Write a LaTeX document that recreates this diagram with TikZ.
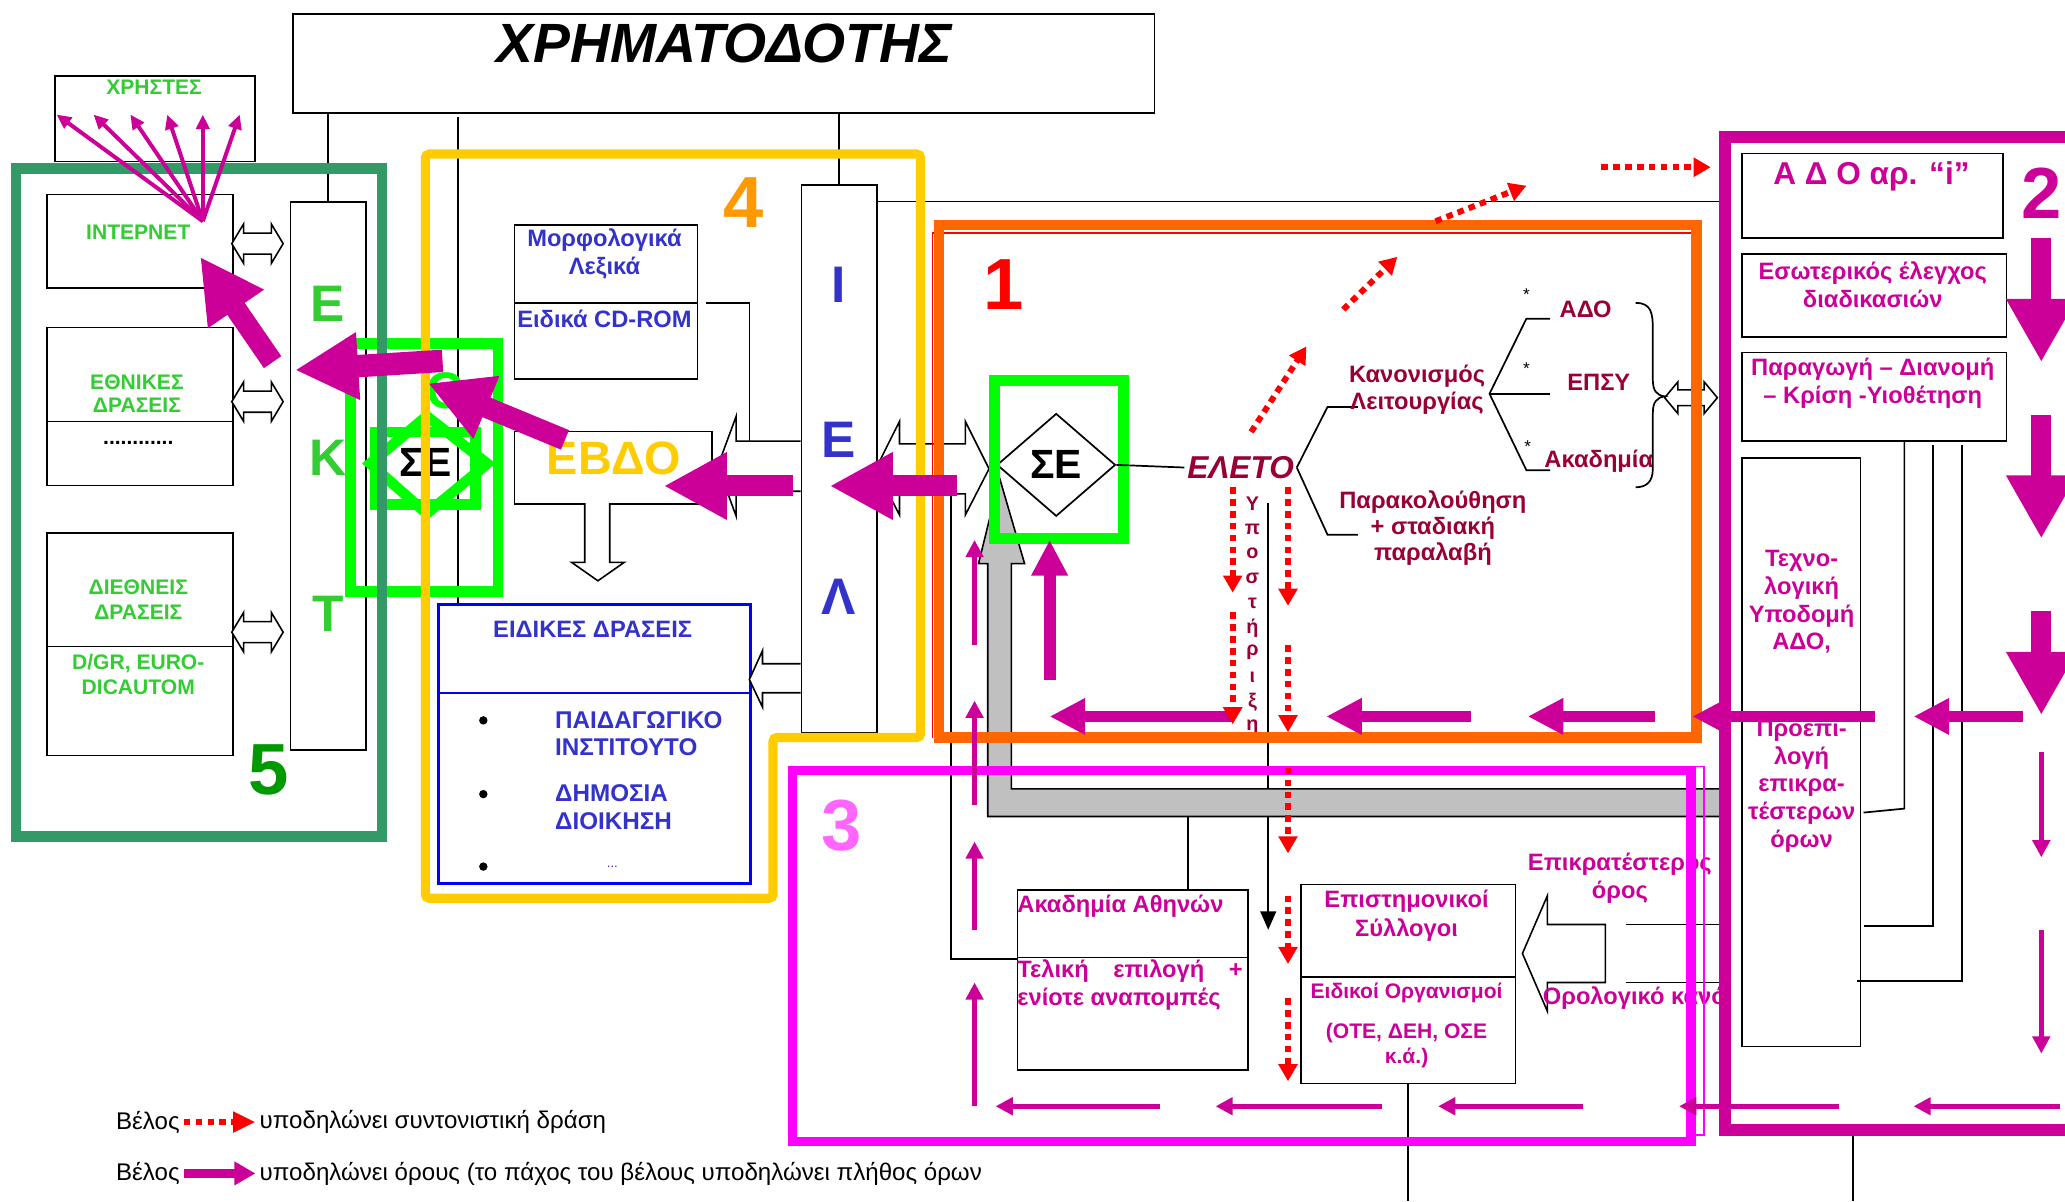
\documentclass[tikz,border=0pt]{standalone}
\usepackage{fontspec}
\setmainfont{Liberation Sans}
\usepackage{xcolor}
\usetikzlibrary{positioning,arrows.meta,shapes.geometric}
\definecolor{dmag}{HTML}{CC0099}
\definecolor{pmag}{HTML}{FF00FF}
\definecolor{lmag}{HTML}{FF66FF}
\definecolor{dorange}{HTML}{FF6600}
\definecolor{lorange}{HTML}{FF9900}
\definecolor{dyellow}{HTML}{FFCC00}
\definecolor{segreen}{HTML}{00FF00}
\definecolor{sgreen}{HTML}{339966}
\definecolor{fgreen}{HTML}{009900}
\definecolor{tgreen}{HTML}{33CC33}
\definecolor{tblue}{HTML}{3333CC}
\definecolor{bblue}{HTML}{0000FF}
\definecolor{dred}{HTML}{990033}
\definecolor{lgray}{HTML}{C0C0C0}

\begin{document}
\begin{tikzpicture}[x=1pt, y=-1pt,
  box/.style={draw=black, line width=1.3pt, inner sep=0pt, anchor=north west},
  wire/.style={draw=black, line width=1.3pt},
  hollow/.style={draw=black, fill=white, line width=1.2pt, line join=miter},
  bigarr/.style={draw=dmag, line width=16pt, -{Triangle[length=48pt,width=48pt]}},
  midarr/.style={draw=dmag, line width=9pt, -{Triangle[length=27pt,width=26pt]}},
  thinarr/.style={draw=dmag, line width=4pt, -{Triangle[length=13pt,width=13pt]}},
  fanarr/.style={draw=dmag, line width=3pt, -{Triangle[length=11pt,width=10pt]}},
  coordarr/.style={draw=red, line width=4.5pt, dash pattern=on 5pt off 4pt, -{Triangle[length=13pt,width=14pt]}},
  gtxt/.style={text=tgreen, font=\bfseries\fontsize{16}{18}\selectfont, align=center},
  btxt/.style={text=tblue, font=\bfseries\fontsize{18}{21}\selectfont, align=center},
  mtxt/.style={text=dmag, font=\bfseries\fontsize{18}{21}\selectfont, align=center},
  rtxt/.style={text=dred, font=\bfseries\fontsize{18}{20}\selectfont, align=center, inner sep=2pt},
  bignum/.style={font=\bfseries\fontsize{55}{55}\selectfont},
  colletter/.style={font=\bfseries\fontsize{39}{39}\selectfont},
  legtxt/.style={font=\fontsize{18.3}{20}\selectfont, inner sep=3pt, anchor=west},
  ]
  \clip (0,0) rectangle (1568,912);
  \fill[white] (0,0) rectangle (1568,912);

  % black boxes
  \node[box, minimum width=654pt, minimum height=75pt] (fund) at (222,10) {};
  \node[box, minimum width=152pt, minimum height=65pt] (users) at (41,57) {};
  \node[box, minimum width=141pt, minimum height=71pt] (inet) at (35,147) {};
  \node[box, minimum width=141pt, minimum height=120pt] (ethn) at (35,248) {};
  \node[box, minimum width=141pt, minimum height=169pt] (dieth) at (35,404) {};
  \node[box, minimum width=57pt, minimum height=416pt] (ekt) at (220,153) {};
  \node[box, minimum width=139pt, minimum height=117pt] (morf) at (390,170) {};
  \node[box, minimum width=150pt, minimum height=55pt] (ebdo) at (390,327) {};
  \node[box, draw=bblue, line width=1.8pt, minimum width=237pt, minimum height=212pt] (eidik) at (332,458) {};
  \node[box, minimum width=57pt, minimum height=416pt] (iel) at (608,140) {};
  \node[box, minimum width=175pt, minimum height=137pt] (akad) at (772,675) {};
  \node[box, minimum width=163pt, minimum height=151pt] (epist) at (987,671) {};
  \node[box, minimum width=198pt, minimum height=64pt] (ado) at (1322,116) {};
  \node[box, minimum width=201pt, minimum height=63pt] (esot) at (1322,192) {};
  \node[box, minimum width=201pt, minimum height=67pt] (parag) at (1322,267) {};
  \node[box, minimum width=90pt, minimum height=447pt] (techn) at (1322,347) {};

  % dividers
  \draw[wire] (35,320) -- (176,320);
  \draw[wire] (35,491) -- (176,491);
  \draw[wire] (390,230) -- (529,230);
  \draw[wire, draw=bblue, line width=1.8pt] (332,526) -- (569,526);
  \draw[wire] (772,727) -- (947,727);
  \draw[wire] (987,742) -- (1150,742);

  % thin connectors
  \draw[wire] (fund.south -| ekt.north) -- (ekt.north);
  \draw[wire] (fund.south -| iel.north) -- (iel.north);
  \coordinate (c348) at (348,89);
  \draw[wire] (c348) -- (c348 |- eidik.north);
  \coordinate (c153) at (1308,153);
  \draw[wire] (c153 -| iel.east) -- (c153);
  \coordinate (mcd) at (536,230);
  \draw[wire] (mcd) -- (569,230) -- (569,335);
  \coordinate (c722) at (722,375);
  \draw[wire] (c722) -- (722,728) -- (akad.west |- 0,728);
  \coordinate (c902) at (902,620);
  \draw[wire] (c902) -- (c902 |- akad.north);
  \draw[wire, -{Triangle[length=14pt,width=12pt]}] (963,382) -- (963,706);
  \draw[wire] (epist.south) -- (epist.south |- 0,912);
  \draw[wire] (1407,862) -- (1407,912);
  \coordinate (r1) at (1446,614);
  \draw[wire] (r1 |- parag.south) -- (r1) -- (1415,617);
  \draw[wire] (1468,338) -- (1468,703) -- (1415,703);
  \draw[wire] (1490,338) -- (1490,745) -- (1410,745);
  \draw[wire] (1235,702) -- (1308,702);
  \draw[wire] (1235,746) -- (1308,746);

  % gray return arrow
  \draw[fill=lgray, line width=1.2pt, line join=miter] (1308,599) -- (768,599) -- (768,428) -- (778,428)
    -- (759,363) -- (743,428) -- (750,428) -- (750,620) -- (1308,620);

  % hollow arrows
  \foreach \yy in {185,305,480}
    \draw[hollow] (176,\yy) -- ++(9,-15) -- ++(0,7) -- ++(21,0) -- ++(0,-7) -- ++(9,15)
      -- ++(-9,15) -- ++(0,-7) -- ++(-21,0) -- ++(0,7) -- cycle;
  \draw[hollow] (608,335) -- (559,335) -- (559,316) -- (545,354) -- (559,392) -- (559,373) -- (608,373);
  \draw[hollow] (608,504) -- (579,504) -- (579,494) -- (569,516) -- (579,537) -- (579,526) -- (608,526);
  \draw[hollow] (444,382) -- (444,427) -- (434,427) -- (454,441) -- (474,427) -- (463,427) -- (463,382);
  \draw[hollow] (665,356) -- (683,320) -- (683,337) -- (733,337) -- (733,320) -- (751,356)
    -- (733,391) -- (733,375) -- (683,375) -- (683,391) -- cycle;
  \draw[hollow] (1219,702) -- (1175,702) -- (1175,680) -- (1156,724) -- (1175,768) -- (1175,746) -- (1219,746) -- cycle;
  \draw[hollow] (1264,302) -- ++(10,-12) -- ++(0,6) -- ++(20,0) -- ++(0,-6) -- ++(10,12)
    -- ++(-10,12) -- ++(0,-6) -- ++(-20,0) -- ++(0,6) -- cycle;

  % brace
  \draw[wire] (1242,230) .. controls (1254,230) and (1255,238) .. (1255,250) -- (1255,288)
    .. controls (1255,297) and (1258,300) .. (1264,301)
    .. controls (1258,302) and (1255,305) .. (1255,314) -- (1255,356)
    .. controls (1255,366) and (1250,370) .. (1242,370);

  % SE nodes
  \node[draw, diamond, line width=1.3pt, minimum width=90pt, minimum height=78pt, inner sep=0pt,
    font=\bfseries\fontsize{31}{31}\selectfont] (se) at (802,353) {ΣΕ};
  \draw[segreen, line width=8pt] (755,289) rectangle (853,409);
  \draw[segreen, line width=8pt] (266,261) rectangle (378,449);
  \draw[segreen, line width=8pt] (285,328) rectangle (361,383);
  \draw[segreen, line width=8pt, line join=miter] (324,316) -- (370,352) -- (324,390) -- (281,352) -- cycle;
  \node[font=\bfseries\fontsize{31}{31}\selectfont] (sel) at (323,351) {ΣΕ};
  \node[colletter, text=segreen] (cgl) at (338,297) {C};

  % ELETO branch
  \node[rtxt, font=\bfseries\itshape\fontsize{24}{24}\selectfont] (eleto) at (942,355) {ΕΛΕΤΟ};
  \draw[wire] (se.east) -- (eleto.west);
  \draw[wire] (eleto.east) -- (1008,309) -- (1031,309);
  \draw[wire] (eleto.east) -- (1008,406) -- (1031,406);
  \node[rtxt] (kanon) at (1076,296) {Κανονισμός\\Λειτουργίας};
  \node[rtxt] (parak) at (1088,401) {Παρακολούθηση\\+ σταδιακή\\παραλαβή};
  \coordinate (kb) at (1131,299);
  \draw[wire] (1177,242) -- (1159,242) -- (kb) -- (1159,357) -- (1177,357);
  \draw[wire] (kb) -- (1177,299);
  \foreach \ax/\ay in {1159/224, 1159/280, 1160/339}
    \node[font=\fontsize{13}{13}\selectfont, inner sep=0pt] at (\ax,\ay) {*};
  \node[rtxt] (adoc) at (1204,235) {ΑΔΟ};
  \node[rtxt] (epsy) at (1214,290) {ΕΠΣΥ};
  \node[rtxt] (akd) at (1214,350) {Ακαδημία};
  \foreach \ch [count=\i] in {Υ,π,ο,σ,τ,ή,ρ,ι,ξ,η}
    \node[text=dred, font=\bfseries\fontsize{15}{15}\selectfont, inner sep=0pt] at (951,364+18.8*\i) {\ch};

  % texts
  \node[font=\bfseries\itshape\fontsize{42}{42}\selectfont] (fundtxt) at (550,33) {ΧΡΗΜΑΤΟΔΟΤΗΣ};
  \node[gtxt] (userstxt) at (117,66) {ΧΡΗΣΤΕΣ};
  \node[gtxt] (inettxt) at (105,176) {ΙΝΤΕΡΝΕΤ};
  \node[gtxt] (ethntxt) at (104,299) {ΕΘΝΙΚΕΣ\\ΔΡΑΣΕΙΣ};
  \node[font=\bfseries\fontsize{16}{18}\selectfont] (dots) at (105,336) {............};
  \node[gtxt, font=\bfseries\fontsize{16}{19}\selectfont] (diethtxt) at (105,455) {ΔΙΕΘΝΕΙΣ\\ΔΡΑΣΕΙΣ};
  \node[gtxt, font=\bfseries\fontsize{16}{19}\selectfont] (dgr) at (105,512) {D/GR, EURO-\\DICAUTOM};
  \node[colletter, text=tgreen] at (249,231) {Ε};
  \node[colletter, text=tgreen] at (249,348) {Κ};
  \node[colletter, text=tgreen] at (249,466) {Τ};
  \node[btxt] (morftxt) at (459,193) {Μορφολογικά\\Λεξικά};
  \node[btxt] (cdrom) at (459,242) {Ειδικά CD-ROM};
  \node[text=dyellow, font=\bfseries\fontsize{35.5}{35.5}\selectfont] (ebdotxt) at (466,348) {ΕΒΔΟ};
  \node[btxt, font=\bfseries\fontsize{18}{20}\selectfont] (eidiktxt) at (450,478) {ΕΙΔΙΚΕΣ ΔΡΑΣΕΙΣ};
  \foreach \yy in {547,603,658} \fill (367,\yy) circle (3.2pt);
  \node[btxt, font=\bfseries\fontsize{18.4}{21}\selectfont, align=left, anchor=west] (pi) at (418,557) {ΠΑΙΔΑΓΩΓΙΚΟ\\ΙΝΣΤΙΤΟΥΤΟ};
  \node[btxt, font=\bfseries\fontsize{18.4}{21}\selectfont, align=left, anchor=west] (dd) at (418,613) {ΔΗΜΟΣΙΑ\\ΔΙΟΙΚΗΣΗ};
  \node[text=tblue, font=\fontsize{10}{10}\selectfont] at (465,658) {...};
  \node[colletter, text=tblue] at (637,216) {Ι};
  \node[colletter, text=tblue] at (637,334) {Ε};
  \node[colletter, text=tblue] at (637,453) {Λ};
  \node[mtxt, anchor=west] (akadt) at (769,688) {Ακαδημία Αθηνών};
  \node[mtxt, anchor=west] (akadt2) at (769,737) {\makebox[171pt][s]{Τελική επιλογή +}};
  \node[mtxt, anchor=west] (akadt3) at (769,759) {ενίοτε αναπομπές};
  \node[mtxt, font=\bfseries\fontsize{18}{22}\selectfont] (episttxt) at (1068,695) {Επιστημονικοί\\Σύλλογοι};
  \node[mtxt, font=\bfseries\fontsize{16}{19}\selectfont] (eidorg) at (1068,754) {Ειδικοί Οργανισμοί};
  \node[mtxt, font=\bfseries\fontsize{16}{19}\selectfont] (ote) at (1068,794) {(ΟΤΕ, ΔΕΗ, ΟΣΕ\\κ.ά.)};
  \node[mtxt] (epikr) at (1230,667) {Επικρατέστερος\\όρος};
  \node[mtxt, anchor=west] (orol) at (1168,758) {Ορολογικό κανό};
  \node[mtxt, font=\bfseries\fontsize{24}{24}\selectfont] (adotxt) at (1421,134) {Α Δ Ο αρ. “i”};
  \node[mtxt] (esottxt) at (1422,216) {Εσωτερικός έλεγχος\\διαδικασιών};
  \node[mtxt] (paragtxt) at (1422,291) {Παραγωγή – Διανομή\\– Κρίση -Υιοθέτηση};
  \node[mtxt] (techtxt) at (1368,457) {Τεχνο-\\λογική\\Υποδομή\\ΑΔΟ,};
  \node[mtxt] (proetxt) at (1368,597) {Προεπι-\\λογή\\επικρα-\\τέστερων\\όρων};

  % region frames
  \draw[sgreen, line width=8pt] (12,128) rectangle (290,635);
  \draw[dyellow, line width=7pt, rounded corners=3pt] (323,117) -- (699,117) -- (699,560) -- (587,560)
    -- (587,682) -- (323,682) -- cycle;
  \draw[red, line width=1.3pt] (708,560) -- (708,177) -- (1284,177);
  \draw[dorange, line width=8pt] (713,171) rectangle (1288,560);
  \draw[pmag, line width=7pt] (602,585) rectangle (1284,867);
  \draw[pmag, line width=1.3pt] (1282,582) -- (1294,582) -- (1294,862) -- (1282,862);
  \draw[dmag, line width=9pt] (1590,104) -- (1310,104) -- (1310,858) -- (1590,858);
  \node[bignum, text=fgreen] at (204,585) {5};
  \node[bignum, text=lorange] at (565,154) {4};
  \node[bignum, text=red] at (762,216) {1};
  \node[bignum, text=lmag] at (639,627) {3};
  \node[bignum, text=dmag] at (1550,147) {2};

  % flows of terms
  \coordinate (fanroot) at (154,168);
  \foreach \tx in {43,71,99,127,154,182}
    \draw[fanarr] (fanroot) -- (\tx,87);
  \draw[bigarr] (207,275) -- (152,195);
  \draw[bigarr, line width=17pt] (336,274) -- (224,281);
  \draw[bigarr] (429,334) -- (325,291);
  \draw[bigarr] (602,369) -- (504,369);
  \draw[bigarr] (727,369) -- (630,369);
  \foreach \ya/\yb in {181/275, 315/409, 464/543}
    \draw[bigarr, line width=15pt, -{Triangle[length=48pt,width=50pt]}] (1550,\ya) -- (1550,\yb);
  \draw[midarr] (797,516) -- (797,410);
  \foreach \xa/\xb in {935/797, 1117/1007, 1257/1160, 1424/1285, 1536/1453}
    \draw[midarr] (\xa,544) -- (\xb,544);
  \foreach \ya/\yb in {490/410, 611/532, 706/639, 840/746}
    \draw[thinarr] (740,\ya) -- (740,\yb);
  \foreach \xa/\xb in {881/756, 1049/923, 1202/1092, 1396/1275, 1564/1453}
    \draw[thinarr] (\xa,840) -- (\xb,840);
  \foreach \ya/\yb in {571/651, 706/800}
    \draw[thinarr] (1550,\ya) -- (1550,\yb);

  % coordination arrows
  \foreach \xa/\ya/\xb/\yb in {950/328/992/263, 1020/235/1061/195, 1090/168/1159/141, 1216/127/1299/127,
      936/370/936/450, 936/465/936/550, 978/370/978/460, 978/490/978/556, 978/583/978/648,
      978/680/978/732, 978/758/978/821}
    \draw[coordarr] (\xa,\ya) -- (\xb,\yb);

  % legend
  \node[legtxt] (leg1) at (85,852) {Βέλος};
  \node[legtxt] (legt1) at (194,852) {υποδηλώνει συντονιστική δράση};
  \draw[coordarr, line width=5pt, -{Triangle[length=17pt,width=15pt]}] (leg1.east) -- (legt1.west);
  \node[legtxt] (leg2) at (85,891) {Βέλος};
  \node[legtxt] (legt2) at (194,891) {υποδηλώνει όρους (το πάχος του βέλους υποδηλώνει πλήθος όρων};
  \draw[draw=dmag, line width=6.5pt, -{Triangle[length=16pt,width=17pt]}] (leg2.east) -- (legt2.west);
\end{tikzpicture}
\end{document}
